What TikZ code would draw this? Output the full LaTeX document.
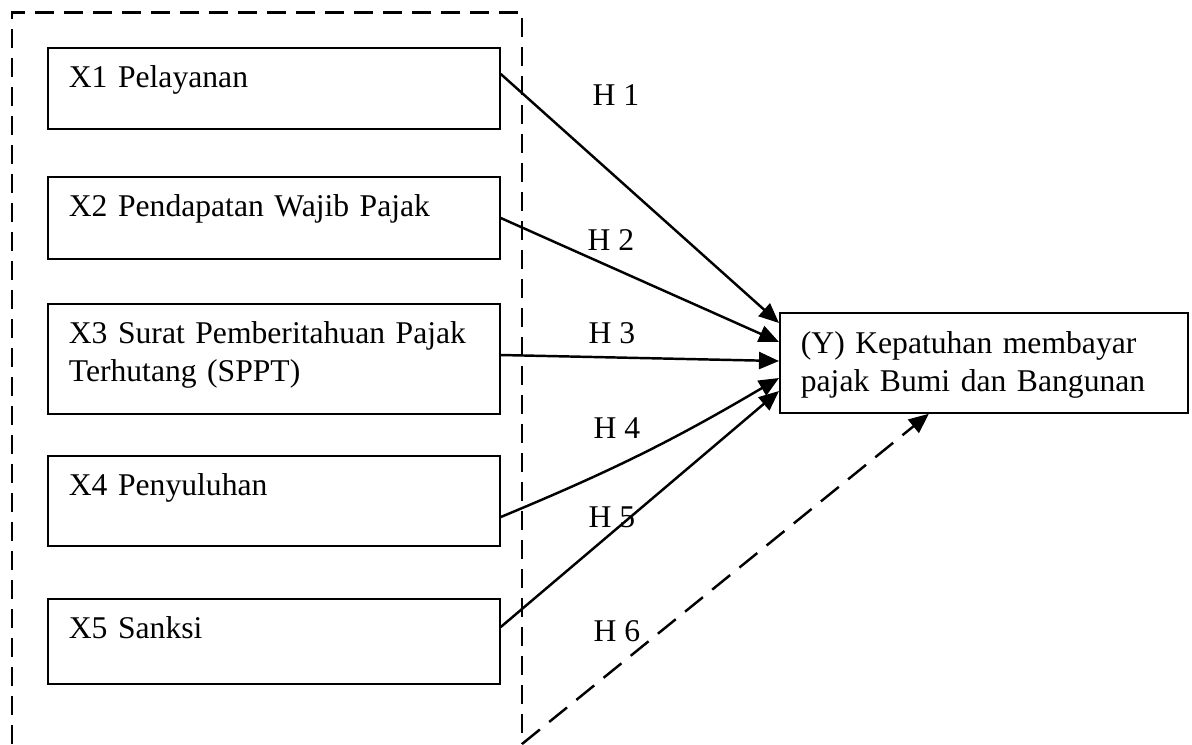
\documentclass[tikz,border=0pt]{standalone}
\usepackage{fontspec}
\setmainfont{Liberation Serif}
\usetikzlibrary{arrows.meta}

\begin{document}
\begin{tikzpicture}[
  var/.style={draw,line width=1pt,anchor=north west,align=left,
              text width=8.2cm,inner xsep=0.42cm,inner ysep=0pt,
              text height=0.8cm,font=\fontsize{18}{21.5}\selectfont},
  hyp/.style={font=\fontsize{18}{21.5}\selectfont},
  grpline/.style={line width=1.3pt,dash pattern=on 0.38cm off 0.2cm},
  arr/.style={-{Triangle[length=0.4cm,width=0.34cm]},line width=1.4pt}
]
  \useasboundingbox (0,0) rectangle (23.84,-14.88);

  % Group of independent variables (open at the bottom)
  \draw[grpline] (0.24,-14.88) |- (10.44,-0.25) -- (10.44,-14.88);
  \coordinate (grpend) at (10.44,-14.88);

  % Independent variables
  \node[var,text depth=0.82cm] (x1) at (0.94,-0.94)  {X1 Pelayanan};
  \node[var,text depth=0.84cm] (x2) at (0.94,-3.52)  {X2 Pendapatan Wajib Pajak};
  \node[var,text depth=1.40cm] (x3) at (0.94,-6.06)  {X3 Surat Pemberitahuan Pajak\\Terhutang (SPPT)};
  \node[var,text depth=1.00cm] (x4) at (0.94,-9.10)  {X4 Penyuluhan};
  \node[var,text depth=0.90cm] (x5) at (0.94,-11.96) {X5 Sanksi};

  % Dependent variable
  \node[var,text width=7.32cm,text height=0.82cm,text depth=1.18cm] (y) at (15.58,-6.24)
       {(Y) Kepatuhan membayar\\pajak Bumi dan Bangunan};

  % Hypotheses
  \node[hyp] (h1) at (12.32,-1.90)  {H 1};
  \node[hyp] (h2) at (12.22,-4.80)  {H 2};
  \node[hyp] (h3) at (12.24,-6.66)  {H 3};
  \node[hyp] (h4) at (12.34,-8.56)  {H 4};
  \node[hyp] (h5) at (12.24,-10.34) {H 5};
  \node[hyp] (h6) at (12.34,-12.62) {H 6};

  % Partial effects
  \foreach \src/\ys/\ye in {x1/-0.54/-0.22, x2/-0.84/-0.60, x3/-1.04/-0.98, x5/-0.58/-1.58}
    \draw[arr] ([yshift=\ys cm]\src.north east) -- ([yshift=\ye cm]y.north west);
  \draw[arr] ([yshift=-1.24cm]x4.north east) to[bend right=4] ([yshift=-1.32cm]y.north west);

  % Simultaneous effect
  \draw[arr,dash pattern=on 0.46cm off 0.24cm] (grpend) -- ([xshift=-1.1cm]y.south);
\end{tikzpicture}
\end{document}
